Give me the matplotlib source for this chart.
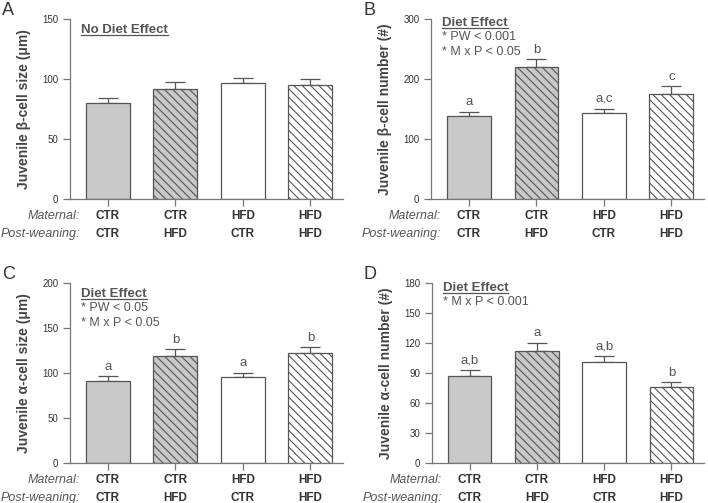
import matplotlib

matplotlib.use("Agg")

import matplotlib.pyplot as plt
from matplotlib.lines import Line2D
from matplotlib.transforms import blended_transform_factory

plt.rcParams["font.family"] = ["Liberation Sans", "DejaVu Sans"]
plt.rcParams["hatch.color"] = "#555555"
plt.rcParams["hatch.linewidth"] = 0.8

maternal = ["CTR", "CTR", "HFD", "HFD"]
post_weaning = ["CTR", "HFD", "CTR", "HFD"]

beta_size = [80, 91.5, 96.5, 95]
beta_size_err = [4.5, 5.8, 4.8, 5.2]
beta_number = [138, 220, 144, 175]
beta_number_err = [8, 13, 7, 13]
alpha_size = [91, 119, 95.5, 122]
alpha_size_err = [5.5, 7.5, 5, 6.5]
alpha_number = [86.5, 112, 101, 75.5]
alpha_number_err = [6.5, 8, 6, 5]

letters_b = ["a", "b", "a,c", "c"]
letters_c = ["a", "b", "a", "b"]
letters_d = ["a,b", "a", "a,b", "b"]

fills = ["#c9c9c9", "#c9c9c9", "white", "white"]
hatches = ["", "\\\\\\\\", "", "\\\\\\\\"]

panels = [
    dict(tag="A", rect=[0.099, 0.604, 0.386, 0.358], vals=beta_size, err=beta_size_err,
         ymax=150, step=50, ylabel="Juvenile β-cell size (μm)", title="No Diet Effect",
         title_y=0.922, notes=[], letters=None),
    dict(tag="B", rect=[0.609, 0.604, 0.386, 0.358], vals=beta_number, err=beta_number_err,
         ymax=300, step=100, ylabel="Juvenile β-cell number (#)", title="Diet Effect",
         title_y=0.961, notes=["* PW < 0.001", "* M x P < 0.05"], letters=letters_b),
    dict(tag="C", rect=[0.099, 0.0795, 0.386, 0.358], vals=alpha_size, err=alpha_size_err,
         ymax=200, step=50, ylabel="Juvenile α-cell size (μm)", title="Diet Effect",
         title_y=0.922, notes=["* PW < 0.05", "* M x P < 0.05"], letters=letters_c),
    dict(tag="D", rect=[0.610, 0.0795, 0.385, 0.358], vals=alpha_number, err=alpha_number_err,
         ymax=180, step=30, ylabel="Juvenile α-cell number (#)", title="Diet Effect",
         title_y=0.956, notes=["* M x P < 0.001"], letters=letters_d),
]

fig = plt.figure(figsize=(7.08, 5.03), dpi=100)
axis_col = "#777777"
text_col = "#333333"
titles = []

for p in panels:
    ax = fig.add_axes(p["rect"])
    x = range(len(p["vals"]))
    for i in x:
        ax.bar(i, p["vals"][i], width=0.65, color=fills[i], edgecolor="#555555",
               linewidth=0.9, hatch=hatches[i], zorder=2)
        ax.errorbar(i, p["vals"][i], yerr=[[0], [p["err"][i]]], fmt="none",
                    ecolor="#555555", elinewidth=0.9, capsize=7, capthick=0.9, zorder=1)
        if p["letters"]:
            ax.text(i, p["vals"][i] + p["err"][i] + p["ymax"] * 0.02, p["letters"][i],
                    ha="center", va="bottom", fontsize=9.5, color="#555555")
    ax.set_xlim(-0.56, 3.49)
    ax.set_ylim(0, p["ymax"])
    ax.set_yticks(range(0, p["ymax"] + 1, p["step"]))
    ax.set_xticks(list(x))
    ax.set_xticklabels([])
    ax.tick_params(axis="both", colors=axis_col, labelcolor=text_col, labelsize=7,
                   length=5, width=0.9)
    for s in ["top", "right"]:
        ax.spines[s].set_visible(False)
    for s in ["left", "bottom"]:
        ax.spines[s].set_color(axis_col)
        ax.spines[s].set_linewidth(0.9)
    ax.set_ylabel(p["ylabel"], fontsize=10, fontweight="bold", color="#444444", labelpad=8)

    trans = blended_transform_factory(ax.transData, ax.transAxes)
    for i in x:
        ax.text(i, -0.092, maternal[i], transform=trans, ha="center", va="center",
                fontsize=8.5, fontweight="bold", color=text_col)
        ax.text(i, -0.192, post_weaning[i], transform=trans, ha="center", va="center",
                fontsize=8.5, fontweight="bold", color=text_col)
    ax.text(-0.41, -0.092, "Maternal:", transform=trans, ha="right", va="center",
            fontsize=9, style="italic", color="#555555")
    ax.text(-0.41, -0.192, "Post-weaning:", transform=trans, ha="right", va="center",
            fontsize=9, style="italic", color="#555555")

    t = ax.text(0.04, p["title_y"], p["title"], transform=ax.transAxes, ha="left",
                va="baseline", fontsize=9.5, fontweight="bold", color="#555555")
    titles.append((ax, t))
    for k, note in enumerate(p["notes"]):
        ax.text(0.04, p["title_y"] - 0.078 - k * 0.083, note, transform=ax.transAxes,
                ha="left", va="baseline", fontsize=9, color="#555555")

    fig.text(p["rect"][0] - 0.096, p["rect"][1] + p["rect"][3] + 0.017, p["tag"],
             fontsize=13, color="#333333", ha="left", va="center")

fig.canvas.draw()
renderer = fig.canvas.get_renderer()
inv = fig.transFigure.inverted()
for ax, t in titles:
    bb = t.get_window_extent(renderer)
    base = ax.transAxes.transform(t.get_position())[1] - 2
    (x0, y0), (x1, y1) = inv.transform([[bb.x0, base], [bb.x1, base]])
    fig.add_artist(Line2D([x0, x1], [y0, y0], color="#555555", linewidth=0.9))

fig.savefig("out.png", dpi=100)
